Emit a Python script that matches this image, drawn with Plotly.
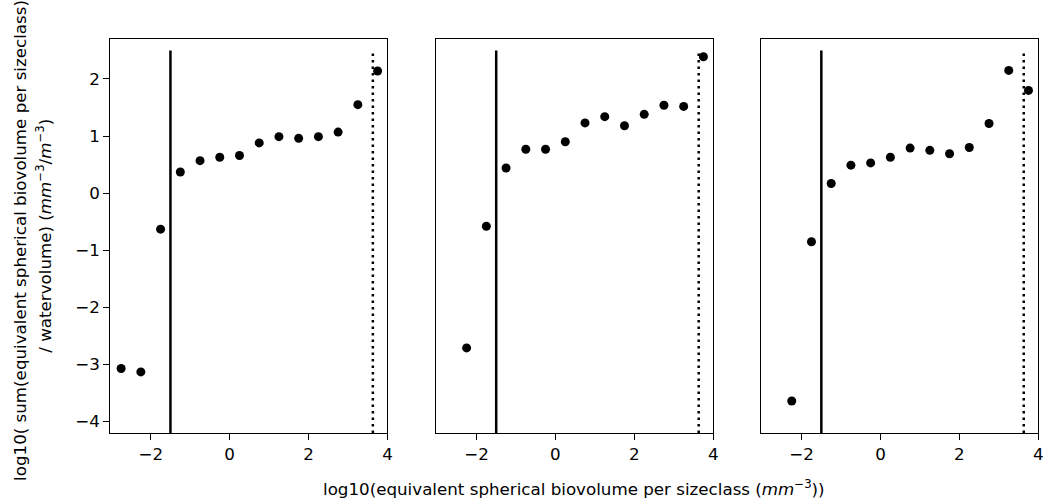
import plotly.graph_objects as go

# Data
x1 = [-2.75, -2.25, -1.75, -1.25, -0.75, -0.25, 0.25, 0.75, 1.25, 1.75, 2.25, 2.75, 3.25, 3.75]
y1 = [-3.07, -3.13, -0.63, 0.37, 0.57, 0.63, 0.66, 0.88, 0.99, 0.96, 0.99, 1.07, 1.55, 2.14]
x2 = [-2.25, -1.75, -1.25, -0.75, -0.25, 0.25, 0.75, 1.25, 1.75, 2.25, 2.75, 3.25, 3.75]
y2 = [-2.71, -0.58, 0.44, 0.77, 0.77, 0.90, 1.23, 1.34, 1.18, 1.38, 1.54, 1.52, 2.39]
x3 = [-2.25, -1.75, -1.25, -0.75, -0.25, 0.25, 0.75, 1.25, 1.75, 2.25, 2.75, 3.25, 3.75]
y3 = [-3.64, -0.85, 0.17, 0.49, 0.53, 0.63, 0.79, 0.75, 0.69, 0.80, 1.22, 2.15, 1.80]

lower_cut = -1.5
upper_cut = 3.63
line_y = [-4.2, 2.5]

xticks = [-2, 0, 2, 4]
yticks = [-4, -3, -2, -1, 0, 1, 2]
xrange_ = [-3.02, 4.0]
yrange_ = [-4.2, 2.70]

W, H = 1051, 500
panels_px = [(111, 389.3), (438.3, 716.7), (765, 1043.3)]
top_px, bot_px = 39, 433

FONT = "DejaVu Sans"
FS = 16.7

fig = go.Figure()
series = [(x1, y1), (x2, y2), (x3, y3)]
for i, (xs, ys) in enumerate(series):
    xa = "x" if i == 0 else f"x{i+1}"
    ya = "y" if i == 0 else f"y{i+1}"
    fig.add_trace(go.Scatter(x=[lower_cut, lower_cut], y=line_y, mode="lines",
                             line=dict(color="black", width=2.5),
                             xaxis=xa, yaxis=ya, showlegend=False))
    fig.add_trace(go.Scatter(x=[upper_cut, upper_cut], y=line_y, mode="lines",
                             line=dict(color="black", width=2.5, dash="2.5px,4px"),
                             xaxis=xa, yaxis=ya, showlegend=False))
    fig.add_trace(go.Scatter(x=xs, y=ys, mode="markers",
                             marker=dict(color="black", size=9),
                             xaxis=xa, yaxis=ya, showlegend=False,
                             cliponaxis=False))

layout = dict(
    width=W, height=H,
    margin=dict(l=0, r=0, t=0, b=0),
    plot_bgcolor="white", paper_bgcolor="white",
    font=dict(family=FONT, size=FS, color="black"),
)
for i, (l, r) in enumerate(panels_px):
    xk = "xaxis" if i == 0 else f"xaxis{i+1}"
    yk = "yaxis" if i == 0 else f"yaxis{i+1}"
    ya = "y" if i == 0 else f"y{i+1}"
    xa = "x" if i == 0 else f"x{i+1}"
    layout[xk] = dict(domain=[l / W, r / W], range=xrange_, tickvals=xticks,
                      ticks="outside", ticklen=6, tickwidth=1.3, tickcolor="black",
                      showline=True, mirror=True, linecolor="black", linewidth=1.3,
                      showgrid=False, zeroline=False, anchor=ya,
                      tickfont=dict(family=FONT, size=FS))
    layout[yk] = dict(domain=[1 - bot_px / H, 1 - top_px / H], range=yrange_,
                      tickvals=yticks,
                      ticks="outside" if i == 0 else "", ticklen=6, tickwidth=1.3,
                      tickcolor="black", showticklabels=(i == 0),
                      showline=True, mirror=True, linecolor="black", linewidth=1.3,
                      showgrid=False, zeroline=False, anchor=xa,
                      tickfont=dict(family=FONT, size=FS))
fig.update_layout(**layout)

fig.add_annotation(text="log10( sum(equivalent spherical biovolume per sizeclass)",
                   xref="paper", yref="paper", x=20 / W, y=1 - 240 / H,
                   xanchor="center", yanchor="middle", textangle=-90,
                   showarrow=False, font=dict(family=FONT, size=FS))
fig.add_annotation(text="/ watervolume) (<i>mm</i><sup>−3</sup>/<i>m</i><sup>−3</sup>)",
                   xref="paper", yref="paper", x=44 / W, y=1 - 236 / H,
                   xanchor="center", yanchor="middle", textangle=-90,
                   showarrow=False, font=dict(family=FONT, size=FS))
fig.add_annotation(text="log10(equivalent spherical biovolume per sizeclass (<i>mm</i><sup>−3</sup>))",
                   xref="paper", yref="paper", x=577 / W, y=1 - 488 / H,
                   xanchor="center", yanchor="middle",
                   showarrow=False, font=dict(family=FONT, size=FS))

fig.write_html("out.html",
               config={"displayModeBar": False},
               post_script="document.body.style.margin='0px';document.body.style.padding='0px';")
